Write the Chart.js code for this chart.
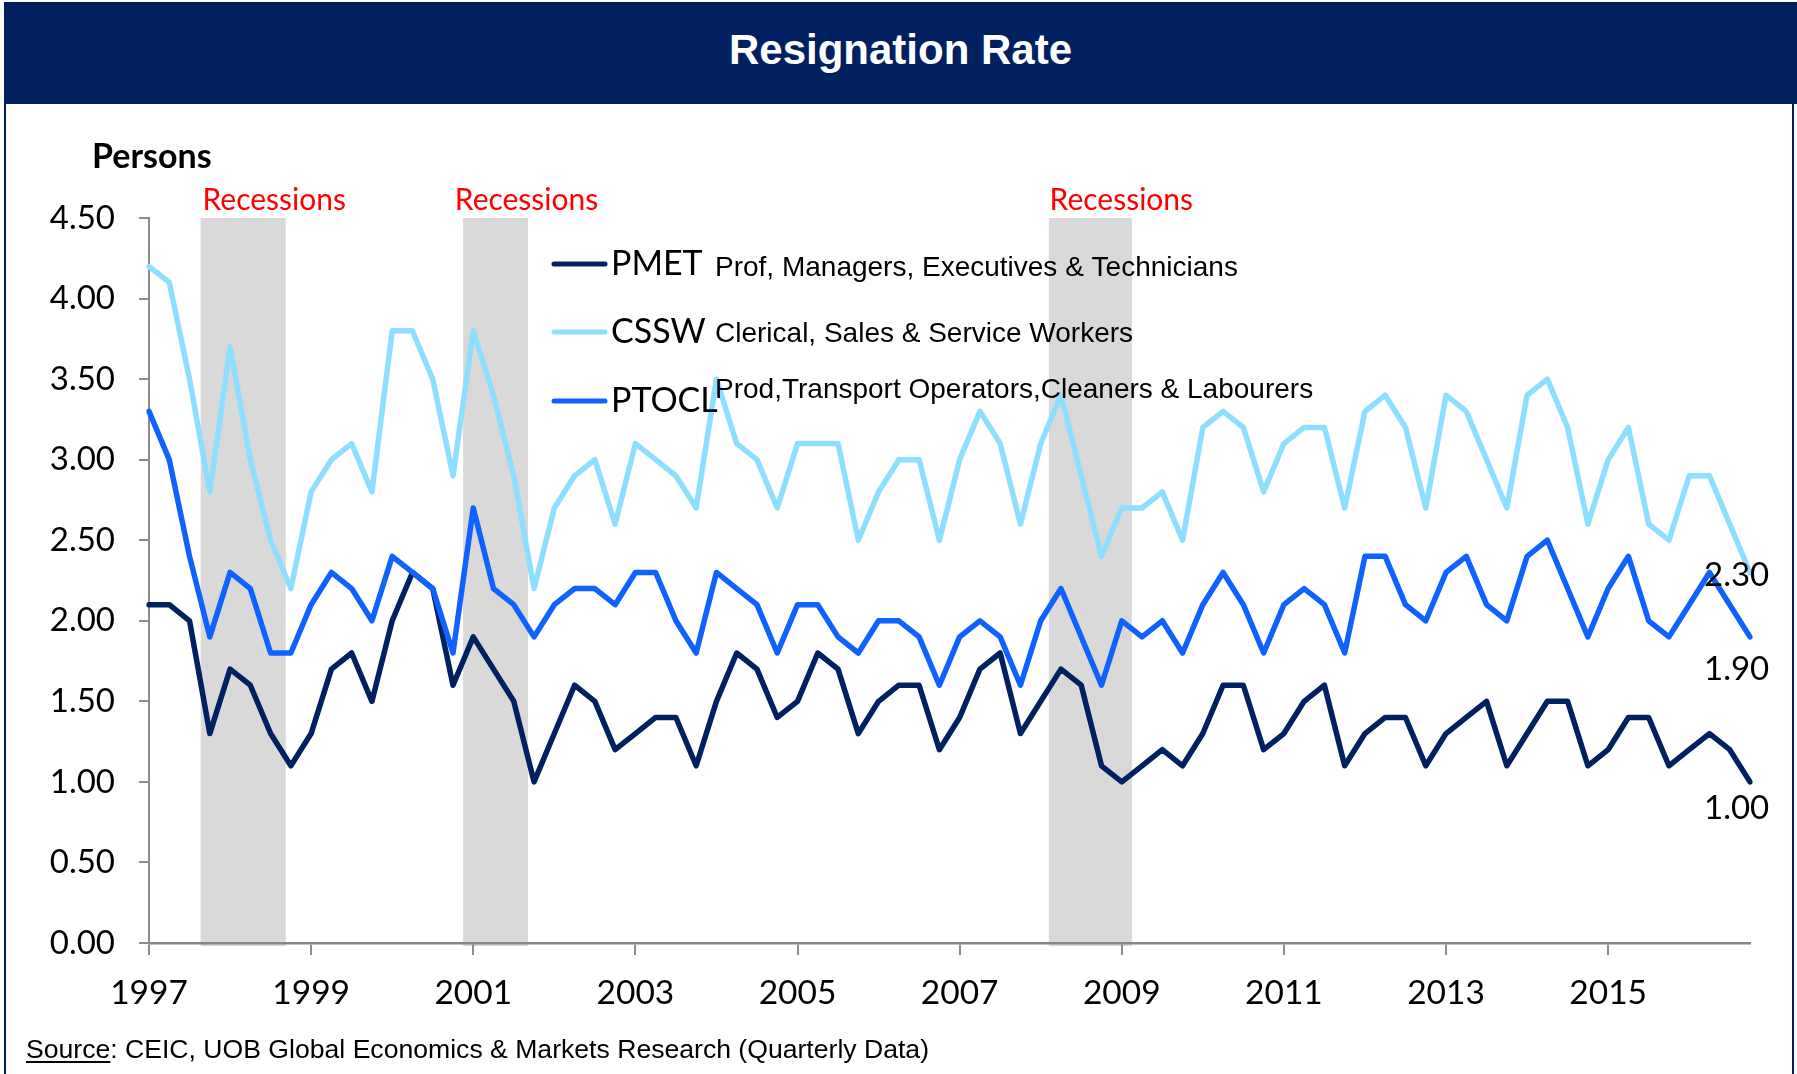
<!DOCTYPE html>
<html>
<head>
<meta charset="utf-8">
<script src="https://cdn.jsdelivr.net/npm/chart.js@4.4.1/dist/chart.umd.min.js"></script>
<style>
  html, body { margin: 0; padding: 0; background: #fff; }
  body { width: 1797px; height: 1074px; position: relative; overflow: hidden; }
  #frame { position: absolute; left: 4px; top: 2px; width: 1790px; height: 1090px; border: 2px solid #002060; box-sizing: border-box; }
  #header { position: absolute; left: 4px; top: 2px; width: 1793px; height: 102px; background: #002060; color: #fff;
    font: bold 42px "Liberation Sans", Arial, sans-serif; text-align: center; line-height: 96px; }
  #persons { position: absolute; left: 92px; top: 134px; font: bold 34px Lato, sans-serif; color: #000; }
  #source { position: absolute; left: 26px; top: 1034px; font: 26.6px "Liberation Sans", Arial, sans-serif; color: #000; }
  #source u { text-underline-offset: 3px; }
  #wrap { position: absolute; left: 0; top: 0; width: 1797px; height: 1074px; }
</style>
</head>
<body>
<div id="frame"></div>
<div id="header">Resignation Rate</div>
<div id="wrap"><canvas id="resignChart"></canvas></div>
<div id="persons">Persons</div>
<div id="source"><u>Source</u>: CEIC, UOB Global Economics &amp; Markets Research (Quarterly Data)</div>
<script>
// Категории: кварталы 1997Q1 - 2016Q4
const years = ['1997', '1998', '1999', '2000', '2001', '2002', '2003', '2004', '2005', '2006',
               '2007', '2008', '2009', '2010', '2011', '2012', '2013', '2014', '2015', '2016'];
const quarters = ['Q1', 'Q2', 'Q3', 'Q4'];
const categories = [];
years.forEach(y => quarters.forEach(q => categories.push(y + q)));

// подписи оси X (каждые 2 года)
const tickYears = ['1997', '1999', '2001', '2003', '2005', '2007', '2009', '2011', '2013', '2015'];

const pmet = [
    2.1, 2.1, 2.0, 1.3, 1.7, 1.6, 1.3, 1.1, 1.3, 1.7, 1.8, 1.5, 2.0, 2.3, 2.2, 1.6, 1.9, 1.7, 1.5, 1.0,
    1.3, 1.6, 1.5, 1.2, 1.3, 1.4, 1.4, 1.1, 1.5, 1.8, 1.7, 1.4, 1.5, 1.8, 1.7, 1.3, 1.5, 1.6, 1.6, 1.2,
    1.4, 1.7, 1.8, 1.3, 1.5, 1.7, 1.6, 1.1, 1.0, 1.1, 1.2, 1.1, 1.3, 1.6, 1.6, 1.2, 1.3, 1.5, 1.6, 1.1,
    1.3, 1.4, 1.4, 1.1, 1.3, 1.4, 1.5, 1.1, 1.3, 1.5, 1.5, 1.1, 1.2, 1.4, 1.4, 1.1, 1.2, 1.3, 1.2, 1.0
];
const cssw = [
    4.2, 4.1, 3.5, 2.8, 3.7, 3.0, 2.5, 2.2, 2.8, 3.0, 3.1, 2.8, 3.8, 3.8, 3.5, 2.9, 3.8, 3.4, 2.9, 2.2,
    2.7, 2.9, 3.0, 2.6, 3.1, 3.0, 2.9, 2.7, 3.5, 3.1, 3.0, 2.7, 3.1, 3.1, 3.1, 2.5, 2.8, 3.0, 3.0, 2.5,
    3.0, 3.3, 3.1, 2.6, 3.1, 3.4, 2.9, 2.4, 2.7, 2.7, 2.8, 2.5, 3.2, 3.3, 3.2, 2.8, 3.1, 3.2, 3.2, 2.7,
    3.3, 3.4, 3.2, 2.7, 3.4, 3.3, 3.0, 2.7, 3.4, 3.5, 3.2, 2.6, 3.0, 3.2, 2.6, 2.5, 2.9, 2.9, 2.6, 2.3
];
const ptocl = [
    3.3, 3.0, 2.4, 1.9, 2.3, 2.2, 1.8, 1.8, 2.1, 2.3, 2.2, 2.0, 2.4, 2.3, 2.2, 1.8, 2.7, 2.2, 2.1, 1.9,
    2.1, 2.2, 2.2, 2.1, 2.3, 2.3, 2.0, 1.8, 2.3, 2.2, 2.1, 1.8, 2.1, 2.1, 1.9, 1.8, 2.0, 2.0, 1.9, 1.6,
    1.9, 2.0, 1.9, 1.6, 2.0, 2.2, 1.9, 1.6, 2.0, 1.9, 2.0, 1.8, 2.1, 2.3, 2.1, 1.8, 2.1, 2.2, 2.1, 1.8,
    2.4, 2.4, 2.1, 2.0, 2.3, 2.4, 2.1, 2.0, 2.4, 2.5, 2.2, 1.9, 2.2, 2.4, 2.0, 1.9, 2.1, 2.3, 2.1, 1.9
];

const seriesNames = ['PMET', 'CSSW', 'PTOCL'];
const seriesDescriptions = [
    'Prof, Managers, Executives & Technicians',
    'Clerical, Sales & Service Workers',
    'Prod,Transport Operators,Cleaners & Labourers'
];
const seriesColors = ['#002060', '#8EDEFF', '#0F62FE'];

// периоды рецессий (в индексах кварталов, дробные)
const recessions = [[2.55, 6.75], [15.5, 18.7], [44.4, 48.5]];
const recessionLabel = 'Recessions';

const decorPlugin = {
    id: 'decor',
    beforeDraw(chart) {
        const ctx = chart.ctx;
        const x = chart.scales.x;
        const area = chart.chartArea;
        ctx.save();
        ctx.fillStyle = '#D9D9D9';
        recessions.forEach(r => {
            const x0 = x.getPixelForValue(r[0]);
            const x1 = x.getPixelForValue(r[1]);
            ctx.fillRect(x0, area.top, x1 - x0, area.bottom - area.top + 3);
        });
        ctx.fillStyle = '#FF0000';
        ctx.font = '30px Lato, sans-serif';
        ctx.textAlign = 'center';
        ctx.textBaseline = 'middle';
        recessions.forEach(r => {
            const cx = (x.getPixelForValue(r[0]) + x.getPixelForValue(r[1])) / 2 + 31;
            ctx.fillText(recessionLabel, cx, area.top - 18);
        });
        ctx.restore();
    },
    afterDatasetsDraw(chart) {
        const ctx = chart.ctx;
        ctx.save();
        // легенда внутри графика
        const rowY = [264, 332, 401];
        const descY = [268, 334, 390];
        seriesNames.forEach((name, i) => {
            ctx.strokeStyle = seriesColors[i];
            ctx.lineWidth = 5;
            ctx.lineCap = 'round';
            ctx.beginPath();
            ctx.moveTo(554, rowY[i]);
            ctx.lineTo(605, rowY[i]);
            ctx.stroke();
            ctx.fillStyle = '#000';
            ctx.textBaseline = 'middle';
            ctx.textAlign = 'left';
            ctx.font = '34px Lato, sans-serif';
            ctx.fillText(name, 611, rowY[i]);
            ctx.font = '28px "Liberation Sans", Arial, sans-serif';
            ctx.fillText(seriesDescriptions[i], 715, descY[i]);
        });
        // подписи последних значений
        const offsets = [26, 3, 32];
        ctx.font = '33px Lato, sans-serif';
        chart.data.datasets.forEach((ds, i) => {
            const pts = chart.getDatasetMeta(i).data;
            const last = pts[pts.length - 1];
            ctx.fillText(ds.data[ds.data.length - 1].toFixed(2), last.x - 46, last.y + offsets[i]);
        });
        ctx.restore();
    }
};

const ctx = document.getElementById('resignChart').getContext('2d');
new Chart(ctx, {
    type: 'line',
    data: {
        labels: categories,
        datasets: [
            { label: seriesNames[0], data: pmet, borderColor: seriesColors[0], order: 3 },
            { label: seriesNames[1], data: cssw, borderColor: seriesColors[1], order: 2 },
            { label: seriesNames[2], data: ptocl, borderColor: seriesColors[2], order: 1 }
        ]
    },
    options: {
        responsive: true,
        maintainAspectRatio: false,
        animation: false,
        layout: { padding: { top: 218, right: 47, bottom: 0, left: 0 } },
        elements: {
            line: { borderWidth: 5.5, tension: 0, borderJoinStyle: 'round', borderCapStyle: 'round' },
            point: { radius: 0, hoverRadius: 0 }
        },
        plugins: {
            legend: { display: false },
            tooltip: { enabled: false }
        },
        scales: {
            x: {
                offset: false,
                afterFit: scale => { scale.height = 131; },
                border: { color: '#868686', width: 2.5 },
                grid: {
                    drawOnChartArea: false,
                    tickLength: 12,
                    lineWidth: 2,
                    color: c => (c.index % 8 === 0 ? '#8C8C8C' : 'rgba(0,0,0,0)')
                },
                ticks: {
                    autoSkip: false,
                    maxRotation: 0,
                    padding: 18,
                    color: '#000',
                    font: { family: 'Lato', size: 33.5 },
                    callback: (val, index) => (index % 8 === 0 ? tickYears[index / 8] : '')
                }
            },
            y: {
                min: 0,
                max: 4.5,
                afterFit: scale => { scale.width = 149; },
                border: { color: '#8C8C8C', width: 2 },
                grid: { drawOnChartArea: false, tickLength: 10, color: '#8C8C8C', lineWidth: 2 },
                ticks: {
                    stepSize: 0.5,
                    padding: 24,
                    color: '#000',
                    font: { family: 'Lato', size: 33 },
                    callback: v => v.toFixed(2)
                }
            }
        }
    },
    plugins: [decorPlugin]
});
</script>
</body>
</html>
